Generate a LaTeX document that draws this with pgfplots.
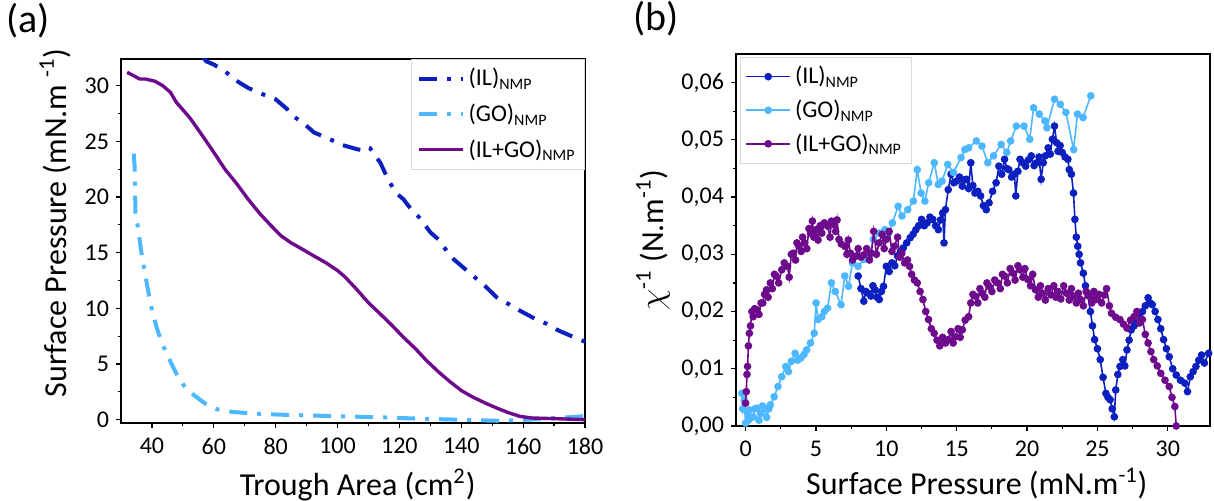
\documentclass[border=0pt]{standalone}
\usepackage{pgfplots}
\pgfplotsset{compat=1.18}
\usepackage{fontspec}
\setmainfont{Carlito}
\definecolor{cIL}{RGB}{12,32,192}
\definecolor{cGO}{RGB}{77,184,255}
\definecolor{cMIX}{RGB}{110,10,140}
\newcommand{\tfont}{\fontsize{12}{14}\selectfont}
\newcommand{\lfont}{\fontsize{16}{19}\selectfont}
\pgfplotsset{
  common/.style={
    scale only axis,
    axis line style={line width=0.6pt},
    tick style={line width=0.6pt, black},
    major tick length=2.5pt,
    minor tick length=1.5pt,
    tick align=outside,
    tick pos=left,
    minor tick num=1,
    ticklabel style={font=\tfont},
    /pgf/number format/assume math mode=true,
    label style={font=\lfont},
    clip mode=individual,
  },
}
\begin{document}
\begin{tikzpicture}
\useasboundingbox (0,0) rectangle (607pt,250.5pt);
\node[font=\fontsize{20}{24}\selectfont] at (14pt,240pt) {(a)};
\node[font=\fontsize{20}{24}\selectfont] at (328pt,241pt) {(b)};
\begin{axis}[common,
  at={(60.5pt,39pt)}, anchor=south west,
  width=232pt, height=182pt,
  xmin=30, xmax=180, ymin=-0.3, ymax=32.4,
  xtick={40,60,...,180}, ytick={0,5,...,30},
  xlabel={Trough Area (cm\textsuperscript{2})},
  ylabel={Surface Pressure (mN.m \textsuperscript{-1})},
  xtick style={yshift=0pt},
  xticklabel style={yshift=-1.5pt},
  xlabel style={at={(axis description cs:0.51,-0.17)}, anchor=center},
  ylabel style={at={(axis description cs:-0.142,0.55)}, anchor=center},
  legend style={at={(1,1)}, anchor=north east, draw=black!15, fill=white,
    font=\tfont, row sep=3.5pt, inner sep=2.5pt, cells={anchor=west}},
  legend image code/.code={\draw[#1] (0pt,0pt) -- (22pt,0pt);},
]
\addplot[cIL, line width=2pt, dash pattern=on 9pt off 5pt on 2pt off 5pt] coordinates {
(56.5,32.6) (57.5,32.2) (60,31.9) (63.6,31.3) (67,30.5) (71.1,29.8) (76.1,29.2) (79.9,28.8) (83.7,27.9) (84.9,27.4) (88.7,26.7) (92.4,25.8) (97.5,25.2) (101.2,24.7) (106.2,24.3) (108,24.2) (109.4,24.5) (110.5,24.4) (111.9,23.8) (113.8,23.1) (116.3,21.6) (118.8,20.4) (121.3,19.8) (123.8,18.9) (126.3,18.2) (130.1,16.8) (132.6,16.2) (135.7,15.0) (137.6,14.4) (140.1,13.8) (143.9,12.9) (147.7,12.0) (151.4,11.0) (155.2,10.4) (158.9,9.8) (163.9,9.05) (167.7,8.6) (171.5,8.0) (176.5,7.4) (180,7.0)
};
\addlegendentry{(IL)\textsubscript{NMP}}
\addplot[cGO, line width=2pt, dash pattern=on 9pt off 5pt on 2pt off 5pt] coordinates {
(34.1,23.9) (34.4,22.8) (34.7,18.3) (35.4,17.4) (36.6,15.0) (37.9,12.9) (39.7,10.2) (41.6,8.2) (43.5,6.7) (46.0,5.2) (48.5,3.8) (51.0,2.8) (53.6,2.2) (57.3,1.43) (61.1,0.93) (66.1,0.69) (73.6,0.54) (81.2,0.45) (88.7,0.39) (101.2,0.30) (113.8,0.21) (126.3,0.09) (138.9,0.0) (151.4,-0.1) (157.7,-0.05) (163.9,0.03) (170.2,0.15) (176.5,0.24) (180,0.33)
};
\addlegendentry{(GO)\textsubscript{NMP}}
\addplot[cMIX, line width=1.7pt] coordinates {
(32,31.2) (34.1,30.9) (36.0,30.6) (37.9,30.6) (41.0,30.4) (43.5,30.0) (46.0,29.4) (47.9,28.5) (49.8,27.9) (52.3,27.1) (56.1,25.6) (59.8,24.1) (63.6,22.5) (67.4,21.2) (71.1,19.8) (74.9,18.5) (78.6,17.4) (81.8,16.5) (84.9,15.9) (88.7,15.3) (92.4,14.7) (96.2,14.1) (100.0,13.4) (102.5,12.8) (106.2,11.7) (110.0,10.5) (113.8,9.5) (117.5,8.5) (121.3,7.4) (125.1,6.4) (128.8,5.3) (132.6,4.3) (136.4,3.4) (140.1,2.6) (143.9,2.0) (147.7,1.5) (151.4,1.05) (155.2,0.63) (158.9,0.30) (162.7,0.15) (170.2,0.09) (180,0.0)
};
\addlegendentry{(IL+GO)\textsubscript{NMP}}
\end{axis}

\begin{axis}[common,
  at={(368pt,37.5pt)}, anchor=south west,
  width=237pt, height=186pt,
  xmin=-0.68, xmax=33, ymin=0, ymax=0.065,
  xtick={0,5,...,30}, ytick={0,0.01,0.02,0.03,0.04,0.05,0.06},
  scaled y ticks=false,
  yticklabel style={/pgf/number format/.cd, fixed, fixed zerofill, precision=2, use comma},
  xticklabel style={yshift=-1.5pt},
  xlabel={Surface Pressure (mN.m\textsuperscript{-1})},
  ylabel={$\chi$\textsuperscript{-1} (N.m\textsuperscript{-1})},
  xlabel style={at={(axis description cs:0.508,-0.155)}, anchor=center},
  ylabel style={at={(axis description cs:-0.175,0.5)}, anchor=center},
  legend style={at={(0,1)}, anchor=north west, xshift=2pt, yshift=-1.5pt, draw=black!15, fill=white,
    font=\tfont, row sep=2.5pt, inner sep=2.5pt, cells={anchor=west}},
  legend image code/.code={\draw[mark repeat=2,mark phase=2,#1] plot coordinates {(0pt,0pt) (11pt,0pt) (22pt,0pt)};},
  every axis plot/.append style={line width=0.8pt, mark=*, mark size=1.5pt},
]
\addplot[cIL, mark options={fill=cIL}] coordinates {
(8.0,0.0262) (8.2,0.0240) (8.4,0.0218) (8.55,0.0235) (8.7,0.0232) (8.9,0.0227) (9.05,0.0245) (9.2,0.0238) (9.35,0.0225) (9.5,0.0221) (9.65,0.0235) (9.8,0.0244) (10.0,0.0279) (10.2,0.0270) (10.4,0.0285) (10.6,0.0280) (10.8,0.0297) (11.0,0.0305) (11.2,0.0311) (11.45,0.0320) (11.7,0.0329) (11.9,0.0335) (12.1,0.0343) (12.3,0.0350) (12.5,0.0361) (12.7,0.0350) (12.9,0.0355) (13.1,0.0365) (13.3,0.0361) (13.5,0.0350) (13.7,0.0343) (13.85,0.0360) (14.0,0.0372) (14.1,0.0320) (14.2,0.0378) (14.4,0.0413) (14.6,0.0440) (14.8,0.0425) (15.0,0.0428) (15.2,0.0435) (15.4,0.0419) (15.55,0.0430) (15.7,0.0431) (15.85,0.0415) (16.0,0.0460) (16.15,0.0420) (16.3,0.0407) (16.5,0.0410) (16.7,0.0402) (16.9,0.0385) (17.1,0.0378) (17.3,0.0390) (17.55,0.0410) (17.8,0.0425) (18.0,0.0454) (18.2,0.0440) (18.4,0.0466) (18.55,0.0450) (18.7,0.0448) (18.9,0.0435) (19.1,0.0440) (19.2,0.0402) (19.35,0.0445) (19.5,0.0466) (19.7,0.0460) (19.9,0.0454) (20.1,0.0465) (20.3,0.0472) (20.5,0.0455) (20.7,0.0460) (20.85,0.0470) (21.0,0.0431) (21.15,0.0460) (21.3,0.0472) (21.5,0.0486) (21.65,0.0475) (21.8,0.0501) (21.95,0.0524) (22.1,0.0495) (22.2,0.0480) (22.35,0.0490) (22.5,0.0478) (22.7,0.0470) (22.9,0.0466) (23.0,0.0448) (23.15,0.0440) (23.3,0.0407) (23.4,0.0361) (23.5,0.0330) (23.6,0.0314) (23.7,0.0300) (23.8,0.0285) (24.0,0.0267) (24.15,0.0245) (24.3,0.0232) (24.5,0.0200) (24.65,0.0175) (24.8,0.0151) (25.0,0.0135) (25.2,0.0116) (25.4,0.0085) (25.6,0.0057) (25.75,0.0050) (25.9,0.0046) (26.05,0.0030) (26.2,0.0016) (26.3,0.0063) (26.45,0.0090) (26.6,0.0104) (26.8,0.0116) (26.95,0.0105) (27.1,0.0133) (27.25,0.0150) (27.4,0.0168) (27.6,0.0175) (27.8,0.0180) (28.0,0.0195) (28.2,0.0200) (28.4,0.0210) (28.6,0.0224) (28.75,0.0215) (28.9,0.0212) (29.1,0.0200) (29.3,0.0186) (29.5,0.0170) (29.7,0.0151) (29.9,0.0135) (30.1,0.0121) (30.35,0.0100) (30.6,0.0089) (30.9,0.0080) (31.2,0.0075) (31.4,0.0060) (31.6,0.0086) (31.8,0.0095) (32.0,0.0104) (32.2,0.0115) (32.4,0.0124) (32.6,0.0110) (32.9,0.0127)
};
\addlegendentry{(IL)\textsubscript{NMP}}
\addplot[cGO, mark options={fill=cGO}] coordinates {
(-0.27,0.0057) (-0.20,0.0030) (-0.10,0.0045) (0.00,0.0005) (0.10,0.0025) (0.20,0.0010) (0.27,0.0028) (0.40,0.0015) (0.54,0.0016) (0.65,0.0030) (0.81,0.0031) (0.95,0.0010) (1.08,0.0022) (1.20,0.0035) (1.36,0.0031) (1.50,0.0015) (1.65,0.0030) (1.76,0.0037) (2.03,0.0051) (2.30,0.0069) (2.57,0.0086) (2.85,0.0104) (3.05,0.0095) (3.25,0.0113) (3.52,0.0127) (3.70,0.0115) (3.93,0.0119) (4.15,0.0125) (4.34,0.0133) (4.61,0.0145) (4.88,0.0162) (5.01,0.0215) (5.15,0.0186) (5.42,0.0191) (5.60,0.0200) (5.83,0.0206) (6.10,0.0250) (6.37,0.0235) (6.78,0.0212) (7.05,0.0262) (7.32,0.0244) (7.59,0.0285) (7.99,0.0279) (8.40,0.0291) (8.81,0.0297) (9.08,0.0326) (9.49,0.0337) (9.89,0.0343) (10.16,0.0337) (10.43,0.0355) (10.84,0.0384) (11.11,0.0367) (11.52,0.0378) (11.92,0.0393) (12.20,0.0448) (12.47,0.0407) (12.74,0.0393) (13.01,0.0425) (13.41,0.0460) (13.69,0.0422) (13.96,0.0428) (14.36,0.0457) (14.77,0.0443) (15.31,0.0469) (15.58,0.0483) (15.85,0.0486) (16.40,0.0498) (16.80,0.0489) (17.21,0.0460) (17.62,0.0472) (18.16,0.0492) (18.56,0.0478) (18.83,0.0498) (19.24,0.0524) (19.78,0.0524) (20.19,0.0501) (20.46,0.0556) (20.87,0.0545) (21.27,0.0533) (21.41,0.0521) (21.95,0.0571) (22.36,0.0562) (22.76,0.0548) (23.31,0.0483) (23.58,0.0545) (23.98,0.0539) (24.53,0.0577)
};
\addlegendentry{(GO)\textsubscript{NMP}}
\addplot[cMIX, mark options={fill=cMIX}] coordinates {
(0.00,0.0040) (0.05,0.0060) (0.10,0.0090) (0.14,0.0104) (0.20,0.0140) (0.27,0.0162) (0.35,0.0175) (0.45,0.0200) (0.54,0.0191) (0.65,0.0205) (0.81,0.0203) (0.95,0.0195) (1.10,0.0215) (1.22,0.0215) (1.35,0.0230) (1.49,0.0238) (1.60,0.0225) (1.76,0.0250) (1.90,0.0240) (2.05,0.0265) (2.17,0.0262) (2.35,0.0250) (2.57,0.0273) (2.75,0.0285) (2.98,0.0279) (3.10,0.0260) (3.25,0.0300) (3.39,0.0302) (3.55,0.0290) (3.65,0.0320) (3.79,0.0314) (3.95,0.0305) (4.05,0.0330) (4.20,0.0320) (4.35,0.0310) (4.50,0.0345) (4.61,0.0337) (4.75,0.0358) (4.85,0.0330) (5.01,0.0343) (5.15,0.0325) (5.30,0.0350) (5.42,0.0337) (5.60,0.0355) (5.83,0.0349) (6.00,0.0330) (6.10,0.0358) (6.23,0.0352) (6.40,0.0340) (6.50,0.0360) (6.64,0.0326) (6.80,0.0318) (7.05,0.0314) (7.20,0.0300) (7.30,0.0325) (7.45,0.0302) (7.60,0.0290) (7.86,0.0297) (8.00,0.0310) (8.20,0.0295) (8.40,0.0299) (8.60,0.0310) (8.80,0.0290) (8.94,0.0302) (9.10,0.0340) (9.30,0.0300) (9.49,0.0320) (9.70,0.0335) (9.85,0.0310) (10.00,0.0326) (10.20,0.0340) (10.40,0.0305) (10.57,0.0314) (10.80,0.0330) (10.95,0.0295) (11.10,0.0302) (11.30,0.0285) (11.50,0.0290) (11.65,0.0279) (11.80,0.0265) (12.00,0.0255) (12.20,0.0250) (12.40,0.0235) (12.60,0.0221) (12.80,0.0200) (13.00,0.0186) (13.20,0.0170) (13.40,0.0162) (13.60,0.0150) (13.80,0.0140) (14.00,0.0155) (14.20,0.0145) (14.40,0.0151) (14.60,0.0165) (14.75,0.0145) (14.90,0.0156) (15.10,0.0170) (15.25,0.0155) (15.40,0.0168) (15.60,0.0185) (15.85,0.0191) (16.00,0.0215) (16.15,0.0230) (16.30,0.0227) (16.50,0.0215) (16.65,0.0240) (16.80,0.0232) (17.00,0.0225) (17.15,0.0250) (17.30,0.0244) (17.50,0.0235) (17.70,0.0255) (17.90,0.0250) (18.10,0.0240) (18.25,0.0265) (18.40,0.0262) (18.60,0.0250) (18.80,0.0275) (19.00,0.0267) (19.15,0.0255) (19.35,0.0280) (19.50,0.0273) (19.70,0.0260) (19.85,0.0275) (20.05,0.0256) (20.25,0.0245) (20.40,0.0265) (20.60,0.0238) (20.80,0.0225) (20.95,0.0245) (21.10,0.0232) (21.30,0.0220) (21.50,0.0240) (21.70,0.0229) (21.90,0.0245) (22.05,0.0225) (22.20,0.0235) (22.40,0.0222) (22.60,0.0245) (22.80,0.0232) (23.00,0.0220) (23.15,0.0240) (23.30,0.0227) (23.50,0.0215) (23.65,0.0232) (23.80,0.0221) (24.00,0.0210) (24.20,0.0235) (24.40,0.0227) (24.60,0.0215) (24.75,0.0235) (24.90,0.0221) (25.10,0.0230) (25.30,0.0215) (25.50,0.0229) (25.65,0.0240) (25.85,0.0210) (26.00,0.0197) (26.30,0.0190) (26.60,0.0186) (26.85,0.0178) (27.10,0.0171) (27.35,0.0185) (27.60,0.0191) (27.80,0.0200) (28.00,0.0180) (28.20,0.0186) (28.40,0.0160) (28.60,0.0145) (28.80,0.0130) (29.00,0.0116) (29.25,0.0105) (29.50,0.0092) (29.80,0.0080) (30.10,0.0069) (30.30,0.0050) (30.50,0.0034) (30.60,0.0000)
};
\addlegendentry{(IL+GO)\textsubscript{NMP}}
\end{axis}
\end{tikzpicture}
\end{document}
